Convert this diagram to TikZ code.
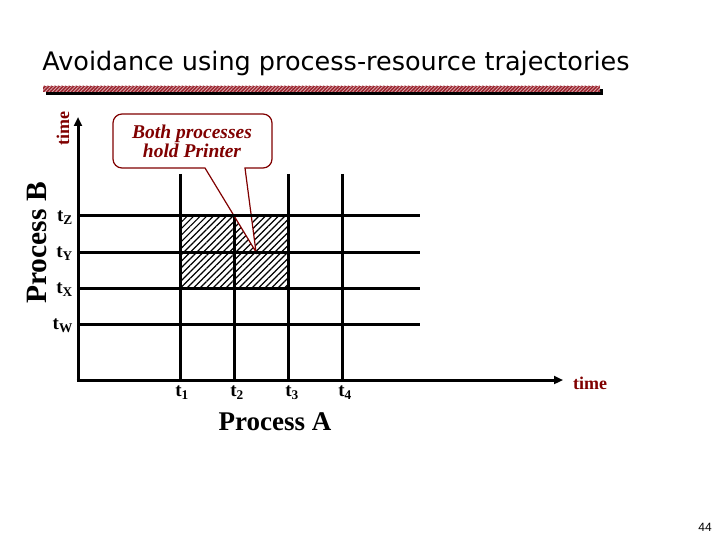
\documentclass[tikz,border=0pt]{standalone}
\usepackage{fontspec}
\setmainfont{Liberation Serif}
\newfontfamily\titlefont{DejaVu Sans}
\newfontfamily\pagefont{Liberation Sans}
\usetikzlibrary{arrows.meta,patterns.meta}
\definecolor{darkred}{RGB}{128,0,0}
\definecolor{barred}{RGB}{155,35,45}
\tikzset{
  gridline/.style={line width=3pt},
  axis/.style={line width=3pt,-{Triangle[length=9pt,width=8pt]}},
  tlabel/.style={font=\fontsize{19}{19}\selectfont\bfseries,inner sep=0pt},
  timelabel/.style={font=\fontsize{18}{18}\selectfont\bfseries,text=darkred},
  proclabel/.style={font=\fontsize{27}{27}\selectfont\bfseries},
}
\begin{document}
\begin{tikzpicture}[x=1pt,y=-1pt]
\useasboundingbox (0,0) rectangle (720,540);
% タイトル
\node[font=\titlefont\fontsize{25.5}{25.5}\selectfont] (title) at (336,63) {Avoidance using process-resource trajectories};
\fill[black] (46,89) rectangle (603,95);
\fill[barred] (43,86) rectangle (600,92);
\fill[pattern={Lines[angle=45,distance=2.5pt,line width=0.8pt]},pattern color=white!60!barred] (43,86) rectangle (600,92);
% 斜線の領域
\fill[pattern={Lines[angle=45,distance=4.6pt,line width=1.2pt]}] (180,216) rectangle (288,288);
% 縦線
\foreach \x in {180,234,288,342}
  \draw[gridline] (\x,174) -- (\x,380);
% 吹き出し
\draw[darkred,line width=1.2pt,fill=white,rounded corners=9pt] (245,168) -- (272,168) -- (272,114) -- (113,114) -- (113,168) [sharp corners] -- (205,168) -- (256,252) -- cycle;
\node[darkred,font=\bfseries\itshape\fontsize{19.5}{19}\selectfont,align=center] (note) at (192,141) {Both processes\\hold Printer};
% 横線
\foreach \y in {216,252,288,324}
  \draw[gridline] (78,\y) -- (420,\y);
% 軸
\coordinate (origin) at (78,380);
\coordinate (ytop) at (78,117);
\coordinate (xend) at (563,380);
\draw[axis] (origin) -- (ytop);
\draw[axis] ([xshift=-1.5pt]origin) -- (xend);
% ラベル
\node[tlabel,anchor=east] (tz) at (73,218) {t\textsubscript{Z}};
\node[tlabel,anchor=east] (ty) at (73,254) {t\textsubscript{Y}};
\node[tlabel,anchor=east] (tx) at (73,290) {t\textsubscript{X}};
\node[tlabel,anchor=east] (tw) at (73,326) {t\textsubscript{W}};
\foreach \n/\x in {1/182,2/237,3/292,4/345}
  \node[tlabel] (t\n) at (\x,393) {t\textsubscript{\n}};
\node[timelabel,rotate=90] (timeB) at (63,129) {time};
\node[timelabel] (timeA) at (590,383) {time};
\node[proclabel,font=\fontsize{29.5}{29.5}\selectfont\bfseries,rotate=90] (procB) at (37,243) {Process B};
\node[proclabel] (procA) at (275,422) {Process A};
\node[font=\pagefont\fontsize{12}{12}\selectfont] (page) at (705,527) {44};
\end{tikzpicture}
\end{document}
